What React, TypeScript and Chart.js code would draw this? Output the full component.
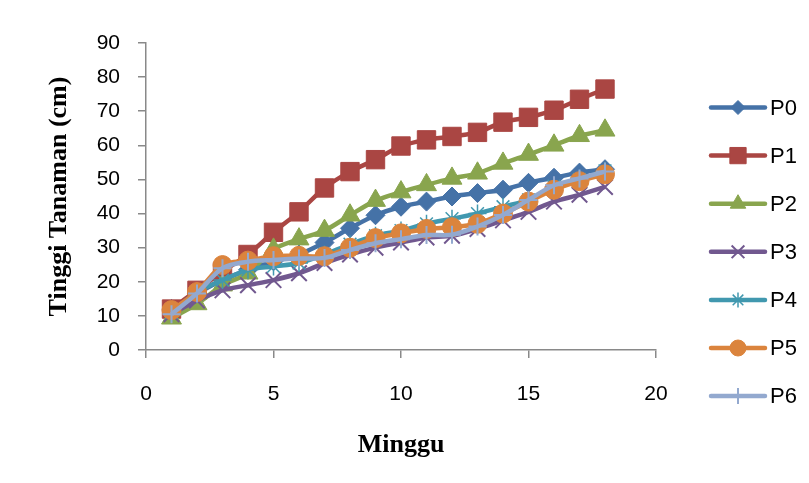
import React, { useEffect, useRef } from "react";
import { Chart, registerables } from "chart.js";
import { drawPoint } from "chart.js/helpers";

Chart.register(...registerables);

const weeks = [1, 2, 3, 4, 5, 6, 7, 8, 9, 10, 11, 12, 13, 14, 15, 16, 17, 18];
const seriesNames = ["P0", "P1", "P2", "P3", "P4", "P5", "P6"];

const p0 = [12, 16.5, 20.5, 23.5, 26, 28, 31.5, 35.7, 39.5, 42, 43.5, 45, 46, 47, 49, 50.5, 52, 53];
const p1 = [12, 17.5, 23, 28, 34.5, 40.5, 47.5, 52.3, 55.8, 59.8, 61.6, 62.6, 63.8, 66.8, 68.2, 70.3, 73.5, 76.5];
const p2 = [9.3, 13.5, 19, 22.5, 29.5, 32.5, 35, 39.5, 43.8, 46.3, 48.4, 50.3, 51.8, 54.7, 57.3, 60, 62.8, 64.4];
const p3 = [10.5, 14.5, 17.5, 19, 20.5, 22.5, 25.5, 28, 30, 31.5, 33, 33.5, 35.5, 38, 40.5, 43.5, 45.5, 47.8];
const p4 = [11, 17, 20.5, 23.5, 24.5, 25.5, 28, 31, 33.5, 35, 37, 38.5, 40, 42, 44, 48, 50, 52.5];
const p5 = [11.7, 17, 24.9, 26.2, 27.5, 27.6, 27.5, 30, 32.8, 34.2, 35.5, 36, 37, 40, 43.5, 47, 49.5, 51.5];
const p6 = [10.5, 16.6, 24, 25.9, 26.4, 26.8, 27, 29.3, 31.3, 32.5, 33.7, 33.8, 36.2, 39.6, 44, 48.3, 50.3, 52.3];

const seriesValues = [p0, p1, p2, p3, p4, p5, p6];

const xTicks = [0, 5, 10, 15, 20];
const yTicks = [0, 10, 20, 30, 40, 50, 60, 70, 80, 90];

const xTitle = "Minggu";
const yTitle = "Tinggi Tanaman (cm)";

const colors = ["#4572A7", "#AA4643", "#89A54E", "#71588F", "#4198AF", "#DB843D", "#93A9CF"];
const pointStyles = ["rectRot", "rect", "triangle", "crossRot", "star", "circle", "cross"];
const pointRadii = [9.5, 13, 11.5, 11, 9, 9.5, 9];
const legendRadii = [7, 11.5, 9, 9, 7.5, 8, 8];
const pointBorderWidths = [1, 1, 1, 2, 1.5, 1, 2];

const TICK_FONT = { family: "'Liberation Sans', Arial, sans-serif", size: 21 };
const LEGEND_FONT_SIZE = 22;
const TITLE_FONT = { family: "'Liberation Serif', 'Times New Roman', serif", size: 26, weight: "bold" as const };

const legendPlugin = {
  id: "customLegend",
  afterDraw(chart: any) {
    const ctx = chart.ctx as CanvasRenderingContext2D;
    const area = chart.chartArea;
    const x0 = area.right + 55;
    const x1 = x0 + 54;
    ctx.save();
    chart.data.datasets.forEach((ds: any, i: number) => {
      const y = 107.5 + i * 48.1;
      ctx.strokeStyle = ds.borderColor;
      ctx.lineWidth = 4.5;
      ctx.lineCap = "round";
      ctx.beginPath();
      ctx.moveTo(x0, y);
      ctx.lineTo(x1, y);
      ctx.stroke();
      ctx.fillStyle = ds.borderColor;
      ctx.strokeStyle = ds.borderColor;
      ctx.lineWidth = pointBorderWidths[i];
      ctx.lineCap = "butt";
      drawPoint(ctx, {
        pointStyle: pointStyles[i],
        rotation: 0,
        radius: legendRadii[i],
        borderWidth: pointBorderWidths[i],
      } as any, (x0 + x1) / 2, y);
      ctx.fillStyle = "#000";
      ctx.font = `${LEGEND_FONT_SIZE}px ${TICK_FONT.family}`;
      ctx.textBaseline = "middle";
      ctx.textAlign = "left";
      ctx.fillText(seriesNames[i], x1 + 5, y + 1);
    });
    ctx.restore();
  },
};

export default function App() {
  const canvasRef = useRef<HTMLCanvasElement | null>(null);

  useEffect(() => {
    const canvas = canvasRef.current;
    if (!canvas) return;
    const datasets = seriesNames.map((name, i) => ({
      label: name,
      data: weeks.map((w, j) => ({ x: w, y: seriesValues[i][j] })),
      borderColor: colors[i],
      backgroundColor: colors[i],
      borderWidth: 4.5,
      tension: 0.3,
      pointStyle: pointStyles[i],
      pointRadius: pointRadii[i],
      pointBorderWidth: pointBorderWidths[i],
      pointBackgroundColor: colors[i],
      pointBorderColor: colors[i],
      order: seriesNames.length - i,
      clip: false as any,
    }));

    const chart = new Chart(canvas, {
      type: "line",
      data: { datasets },
      plugins: [legendPlugin],
      options: {
        animation: false,
        responsive: false,
        devicePixelRatio: 1,
        layout: { padding: { left: 0, right: 153, top: 43, bottom: 0 } },
        plugins: {
          legend: { display: false },
          tooltip: { enabled: false },
        },
        scales: {
          x: {
            type: "linear",
            min: 0,
            max: 20,
            afterFit: (s: any) => {
              s.height = 133;
            },
            afterBuildTicks: (s: any) => {
              s.ticks = xTicks.map((v) => ({ value: v }));
            },
            border: { color: "#898989", width: 1.5 },
            grid: { drawOnChartArea: false, drawTicks: true, tickLength: 8, color: "#898989", lineWidth: 1.5 },
            ticks: { color: "#000", font: TICK_FONT, padding: 24, maxRotation: 0 },
            title: { display: true, text: xTitle, color: "#000", font: TITLE_FONT, padding: { top: 0, bottom: 22 } },
          },
          y: {
            type: "linear",
            min: 0,
            max: 90,
            afterFit: (s: any) => {
              s.width = 146;
            },
            afterBuildTicks: (s: any) => {
              s.ticks = yTicks.map((v) => ({ value: v }));
            },
            border: { color: "#898989", width: 1.5 },
            grid: { drawOnChartArea: false, drawTicks: true, tickLength: 8, color: "#898989", lineWidth: 1.5 },
            ticks: { color: "#000", font: TICK_FONT, padding: 18 },
            title: { display: true, text: yTitle, color: "#000", font: TITLE_FONT, padding: { top: 44, bottom: 0 } },
          },
        },
      },
    });
    return () => chart.destroy();
  }, []);

  return (
    <div style={{ position: "fixed", left: 0, top: 0, width: 809, height: 483, background: "#fff" }}>
      <canvas ref={canvasRef} width={809} height={483} style={{ display: "block", width: 809, height: 483 }} />
    </div>
  );
}
